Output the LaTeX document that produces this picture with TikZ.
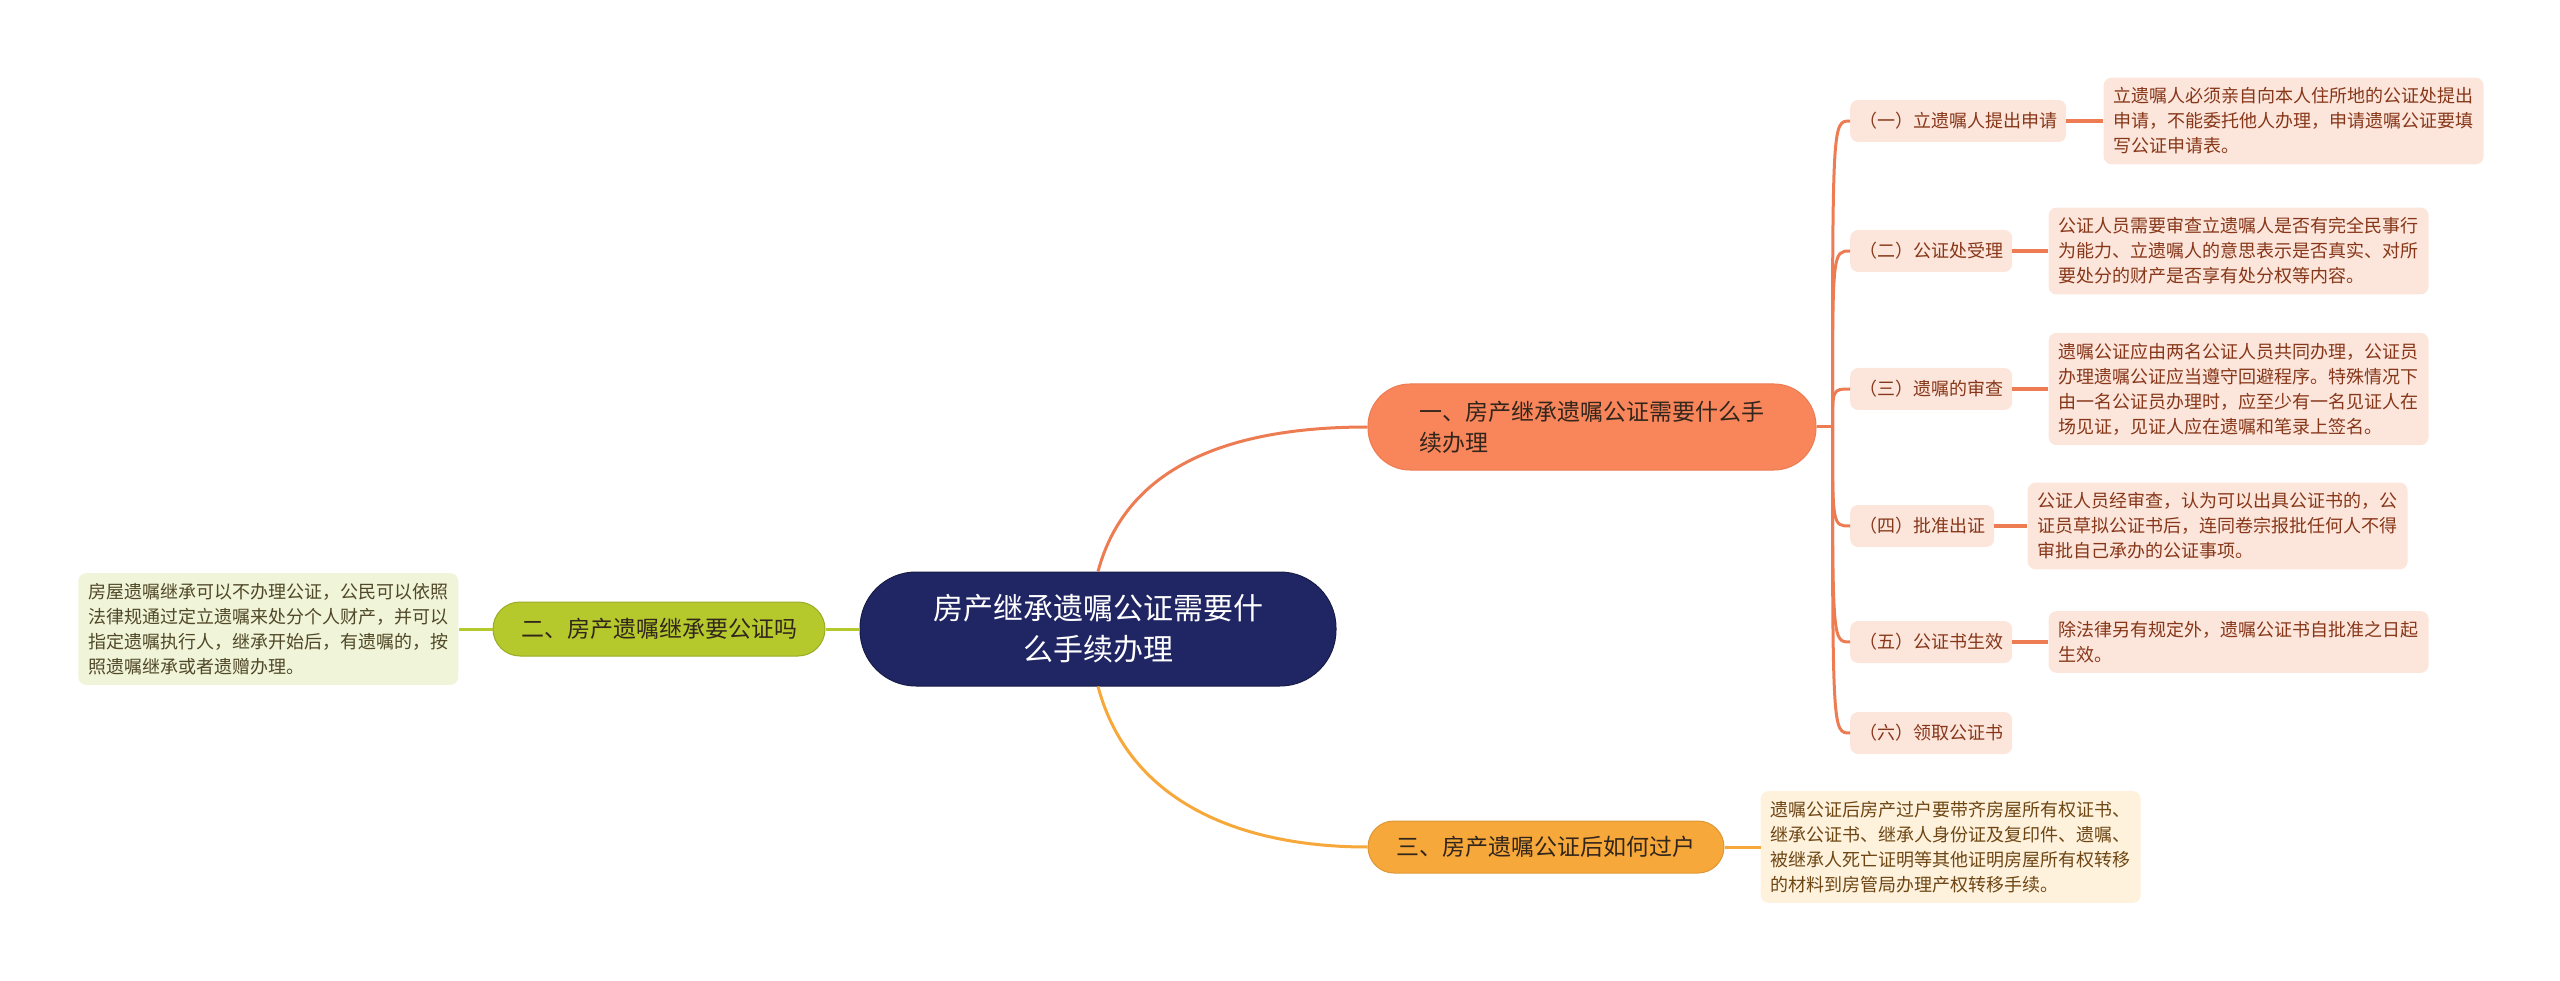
\documentclass[tikz,border=0pt]{standalone}
\usepackage{fontspec}
\setmainfont{Noto Sans CJK SC}
\usepackage{tikz}
\usetikzlibrary{positioning}
\definecolor{rootnavy}{RGB}{32,38,100}
\definecolor{coral}{RGB}{249,133,90}
\definecolor{coralline}{RGB}{237,124,82}
\definecolor{limegreen}{RGB}{181,201,44}
\definecolor{amberorange}{RGB}{247,168,58}
\definecolor{pinkbg}{RGB}{252,229,219}
\definecolor{limebg}{RGB}{240,244,216}
\definecolor{amberbg}{RGB}{254,242,221}
\definecolor{rusttext}{RGB}{135,55,25}
\definecolor{darktext}{RGB}{50,38,28}
\definecolor{olivetext}{RGB}{80,72,40}
\definecolor{browntext}{RGB}{110,70,20}
\tikzset{
  base/.style={align=left, inner sep=0pt, text=darktext},
  root/.style={base, align=center, rounded corners=56pt, fill=rootnavy, draw=rootnavy!70!black, line width=1pt, minimum width=476pt, minimum height=114pt, text=white, font=\fontsize{30}{41}\selectfont},
  topic/.style={base, line width=1pt, font=\fontsize{23}{31}\selectfont},
  sub/.style={base, anchor=west, fill=pinkbg, rounded corners=8pt, text=rusttext, inner xsep=9pt, minimum height=42pt, font=\fontsize{18}{25}\selectfont},
  detail/.style={base, rounded corners=8pt, inner xsep=10pt, inner ysep=10pt, font=\fontsize{18}{25}\selectfont},
  lnk/.style={line width=3pt, draw=#1},
  lnk/.default=coralline,
}
\begin{document}
\begin{tikzpicture}[x=1pt,y=-1pt]
  \path[use as bounding box] (0,0) rectangle (2560,981);
  \node[root] (root) at (1098,629) {房产继承遗嘱公证需要什\\么手续办理};
  \node[topic, fill=coral, draw=coralline, rounded corners=42pt, minimum width=448pt, minimum height=86pt] (b1) at (1592,427) {一、房产继承遗嘱公证需要什么手\\续办理};
  \node[topic, fill=limegreen, draw=limegreen!85!black, rounded corners=27pt, minimum width=332pt, minimum height=54pt] (b2) at (659,629) {二、房产遗嘱继承要公证吗};
  \node[topic, fill=amberorange, draw=amberorange!90!black, rounded corners=26pt, minimum width=356pt, minimum height=52pt] (b3) at (1546,847) {三、房产遗嘱公证后如何过户};
  \node[detail, fill=limebg, text=olivetext, left=34pt of b2] (gd) {房屋遗嘱继承可以不办理公证，公民可以依照\\法律规通过定立遗嘱来处分个人财产，并可以\\指定遗嘱执行人，继承开始后，有遗嘱的，按\\照遗嘱继承或者遗赠办理。};
  \node[detail, fill=amberbg, text=browntext, right=36pt of b3] (ad) {遗嘱公证后房产过户要带齐房屋所有权证书、\\继承公证书、继承人身份证及复印件、遗嘱、\\被继承人死亡证明等其他证明房屋所有权转移\\的材料到房管局办理产权转移手续。};
  \node[sub] (s1) at (1850,121) {（一）立遗嘱人提出申请};
  \node[sub] (s2) at (1850,251) {（二）公证处受理};
  \node[sub] (s3) at (1850,389) {（三）遗嘱的审查};
  \node[sub] (s4) at (1850,526) {（四）批准出证};
  \node[sub] (s5) at (1850,642) {（五）公证书生效};
  \node[sub] (s6) at (1850,733) {（六）领取公证书};
  \node[detail, fill=pinkbg, text=rusttext, right=37pt of s1] (d1) {立遗嘱人必须亲自向本人住所地的公证处提出\\申请，不能委托他人办理，申请遗嘱公证要填\\写公证申请表。};
  \node[detail, fill=pinkbg, text=rusttext, right=36pt of s2] (d2) {公证人员需要审查立遗嘱人是否有完全民事行\\为能力、立遗嘱人的意思表示是否真实、对所\\要处分的财产是否享有处分权等内容。};
  \node[detail, fill=pinkbg, text=rusttext, right=36pt of s3] (d3) {遗嘱公证应由两名公证人员共同办理，公证员\\办理遗嘱公证应当遵守回避程序。特殊情况下\\由一名公证员办理时，应至少有一名见证人在\\场见证，见证人应在遗嘱和笔录上签名。};
  \node[detail, fill=pinkbg, text=rusttext, right=33pt of s4] (d4) {公证人员经审查，认为可以出具公证书的，公\\证员草拟公证书后，连同卷宗报批任何人不得\\审批自己承办的公证事项。};
  \node[detail, fill=pinkbg, text=rusttext, right=36pt of s5] (d5) {除法律另有规定外，遗嘱公证书自批准之日起\\生效。};
  \draw[lnk] (root.north) to[out=75,in=180] (b1.west);
  \draw[lnk=amberorange] (root.south) to[out=-75,in=180] (b3.west);
  \draw[lnk=limegreen] (root.west) -- (b2.east);
  \draw[lnk=limegreen] (b2.west) -- (gd.east);
  \draw[lnk=amberorange] (b3.east) -- (ad.west);
  \coordinate (j1) at ([xshift=16pt]b1.east);
  \draw[lnk] (b1.east) -- (j1);
  \foreach \s in {s1,s2,s3,s4,s5,s6}{\draw[lnk] (j1) .. controls (j1 |- \s.west) .. (\s.west);}
  \foreach \a/\b in {s1/d1,s2/d2,s3/d3,s4/d4,s5/d5}{\draw[lnk, line width=4pt] (\a.east) -- (\b.west);}
\end{tikzpicture}
\end{document}
